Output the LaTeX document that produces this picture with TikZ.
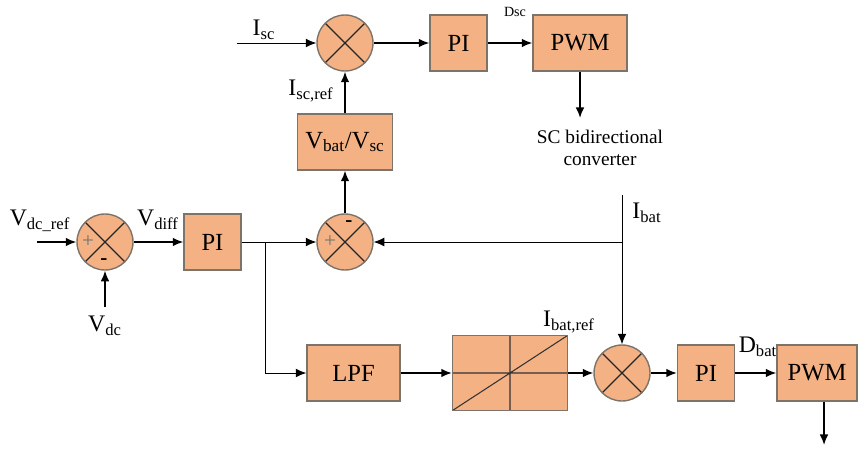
\documentclass[tikz,border=0pt]{standalone}
\usepackage{fontspec}
\setmainfont{Liberation Serif}
\usetikzlibrary{arrows.meta}
\definecolor{blockfill}{RGB}{244,177,131}
\definecolor{blockline}{RGB}{125,115,105}
\newcommand{\subs}[1]{\textsubscript{#1}}

\begin{document}
\begin{tikzpicture}[
    block/.style={draw=blockline, fill=blockfill, line width=0.8pt, minimum height=1.12cm, inner sep=2pt, font=\fontsize{14}{16}\selectfont},
    sumjunc/.style={circle, draw=blockline, fill=blockfill, line width=0.8pt, minimum size=1.12cm,
        path picture={\draw[black!85, line width=0.7pt]
            (path picture bounding box.north west) -- (path picture bounding box.south east)
            (path picture bounding box.north east) -- (path picture bounding box.south west);}},
    satbox/.style={draw=blockline, fill=blockfill, line width=0.8pt, minimum width=2.3cm, minimum height=1.5cm,
        path picture={\draw[black!80, line width=0.6pt]
            (path picture bounding box.west) -- (path picture bounding box.east)
            (path picture bounding box.north) -- (path picture bounding box.south)
            (path picture bounding box.south west) -- (path picture bounding box.north east);}},
    arr/.style={-{Latex[length=6pt,width=5pt]}, line width=1pt},
    thinarr/.style={-{Latex[length=6pt,width=5pt]}, line width=0.5pt},
    lbl/.style={inner sep=0pt, font=\fontsize{13.5}{15}\selectfont},
    sign/.style={inner sep=0pt, font=\fontsize{12}{14}\selectfont},
]
    \useasboundingbox (0,0) rectangle (17.36,9);
    % SC current loop (top row)
        \node[sumjunc] (sumA) at (6.9,8.14) {};
        \node[block, minimum width=1.14cm] (piA) at (9.17,8.14) {PI};
        \node[block, minimum width=1.88cm] (pwmA) at (11.6,8.14) {PWM};
        \node[block, minimum width=1.9cm] (ratio) at (6.9,6.16) {V\subs{bat}/V\subs{sc}};
        \coordinate (iscIn) at (4.74,8.14);
        \coordinate (pwmAout) at (11.6,6.64);
    % DC voltage loop
        \node[sumjunc] (sumV) at (2.1,4.16) {};
        \node[block, minimum width=1.14cm] (piV) at (4.25,4.16) {PI};
        \node[sumjunc] (sumB) at (6.9,4.16) {};
        \coordinate (vref) at (0.74,4.16);
        \coordinate (vdcIn) at (2.1,2.86);
        \coordinate (split) at (5.3,4.16);
    % battery current loop (bottom row)
        \node[block, minimum width=1.86cm] (lpf) at (7.07,1.54) {LPF};
        \node[satbox] (sat) at (10.2,1.54) {};
        \node[sumjunc] (sumI) at (12.44,1.54) {};
        \node[block, minimum width=1.14cm] (piI) at (14.12,1.54) {PI};
        \node[block, minimum width=1.6cm] (pwmI) at (16.34,1.54) {PWM};
        \coordinate (ibatTop) at (12.44,5.1);
        \coordinate (ibatJoin) at (12.44,4.16);
        \coordinate (pwmIout) at (16.48,0.1);
    % Connectors
        \draw[thinarr] (iscIn) -- (sumA);
        \draw[arr] (sumA) -- (piA);
        \draw[arr] (piA) -- (pwmA);
        \draw[arr] (pwmA) -- (pwmAout);
        \draw[arr] (ratio) -- (sumA);
        \draw[arr] (sumB) -- (ratio);
        \draw[arr] (vref) -- (sumV);
        \draw[arr] (vdcIn) -- (sumV);
        \draw[arr] (sumV) -- (piV);
        \draw[thinarr] (piV) -- (sumB);
        \draw[thinarr] (split) |- (lpf);
        \draw[arr] (lpf) -- (sat);
        \draw[arr] (sat) -- (sumI);
        \draw[arr] (sumI) -- (piI);
        \draw[arr] (piI) -- (pwmI);
        \draw[thinarr] (ibatTop) -- (sumI);
        \draw[thinarr] (ibatJoin) -- (sumB);
        \draw[arr] (pwmI.south -| pwmIout) -- (pwmIout);
    % Below nodes are the labels.
        \node[lbl] (lIsc) at (5.28,8.4) {I\subs{sc}};
        \node[lbl] (lIscref) at (6.22,7.18) {I\subs{sc,ref}};
        \node[inner sep=0pt, font=\fontsize{8}{10}\selectfont] (lDsc) at (10.3,8.76) {Dsc};
        \node[inner sep=0pt, align=center, font=\fontsize{11}{12.5}\selectfont] (lSC) at (12.0,6.04) {SC bidirectional\\converter};
        \node[lbl] (lVref) at (0.8,4.58) {V\subs{dc\_ref}};
        \node[lbl] (lVdiff) at (3.16,4.6) {V\subs{diff}};
        \node[lbl] (lVdc) at (2.1,2.48) {V\subs{dc}};
        \node[lbl] (lIbat) at (12.94,4.74) {I\subs{bat}};
        \node[lbl] (lIbatref) at (11.38,2.56) {I\subs{bat,ref}};
        \node[lbl] (lDbat) at (15.16,2.06) {D\subs{bat}};
    % signs of the summing points
        \node[sign, text=black!55] (pV) at (1.76,4.16) {+};
        \node[sign, font=\bfseries\fontsize{12}{14}\selectfont] (mV) at (2.08,3.76) {-};
        \node[sign, text=black!55] (pB) at (6.6,4.16) {+};
        \node[sign, font=\bfseries\fontsize{12}{14}\selectfont] (mB) at (6.98,4.52) {-};
\end{tikzpicture}
\end{document}
